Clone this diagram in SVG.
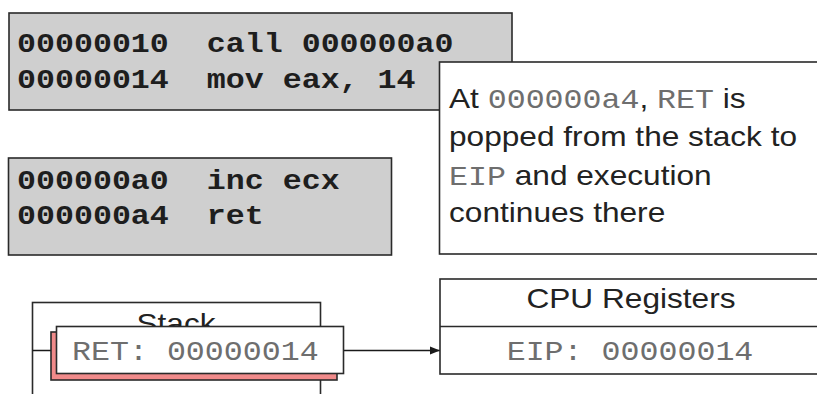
<svg xmlns="http://www.w3.org/2000/svg" width="817" height="394" viewBox="0 0 817 394">
<defs>
<style>
.box{stroke:#2a2a2a;stroke-width:1.6}
.code{fill:#cfcfcf}
.wh{fill:#ffffff}
.mono{font-family:"Liberation Mono","Courier New",monospace;font-size:28px}
.bold{font-weight:bold;fill:#1e1e1e}
.gray{fill:#6e6e6e}
.sans{font-family:"Liberation Sans",Arial,sans-serif;font-size:28px;fill:#222}
.conn{stroke:#1a1a1a;stroke-width:1.6;fill:none}
</style>
<marker id="arrow" viewBox="0 0 10 10" refX="10" refY="5" markerWidth="10" markerHeight="10" markerUnits="userSpaceOnUse" orient="auto">
<path d="M0,1 L10,5 L0,9 Z" fill="#1a1a1a"/>
</marker>
</defs>
<rect width="817" height="394" fill="#ffffff"/>

<g id="code-call">
<rect class="box code" x="9" y="13" width="503" height="97"/>
<text class="mono bold" transform="translate(17,52) scale(1.13,1)" xml:space="preserve">00000010  call 000000a0</text>
<text class="mono bold" transform="translate(17,88) scale(1.13,1)" xml:space="preserve">00000014  mov eax, 14</text>
</g>

<g id="code-sub">
<rect class="box code" x="8.5" y="158" width="383" height="97"/>
<text class="mono bold" transform="translate(17,189) scale(1.13,1)" xml:space="preserve">000000a0  inc ecx</text>
<text class="mono bold" transform="translate(17,224) scale(1.13,1)" xml:space="preserve">000000a4  ret</text>
</g>

<g id="callout">
<rect class="box wh" x="439.5" y="62" width="390" height="192"/>
<g transform="translate(449,0) scale(1.13,1)">
<text class="sans" x="0" y="108" xml:space="preserve">At <tspan class="mono gray">000000a4</tspan>, <tspan class="mono gray">RET</tspan> is</text>
<text class="sans" x="0" y="146">popped from the stack to</text>
<text class="sans" x="0" y="185" xml:space="preserve"><tspan class="mono gray">EIP</tspan> and execution</text>
<text class="sans" x="0" y="222">continues there</text>
</g>
</g>

<g id="stack">
<rect class="box wh" x="32.5" y="302.5" width="288" height="110"/>
<text class="sans" text-anchor="middle" transform="translate(176,333) scale(1.13,1)">Stack</text>
</g>

<g id="connectors">
<line class="conn" x1="32.5" y1="350.5" x2="440" y2="350.5" marker-end="url(#arrow)"/>
</g>

<g id="ret-entry">
<rect class="box" x="51" y="332" width="286" height="48" fill="#f08a8a"/>
<rect class="box wh" x="56.5" y="326.5" width="287" height="47"/>
<text class="mono gray" transform="translate(72,360) scale(1.13,1)">RET: 00000014</text>
</g>

<g id="cpu-registers">
<rect class="box wh" x="440" y="279" width="390" height="95"/>
<line class="box" x1="440" y1="326.5" x2="830" y2="326.5"/>
<text class="sans" text-anchor="middle" transform="translate(631,308) scale(1.13,1)">CPU Registers</text>
<text class="mono gray" text-anchor="middle" transform="translate(630,360) scale(1.13,1)">EIP: 00000014</text>
</g>
</svg>
